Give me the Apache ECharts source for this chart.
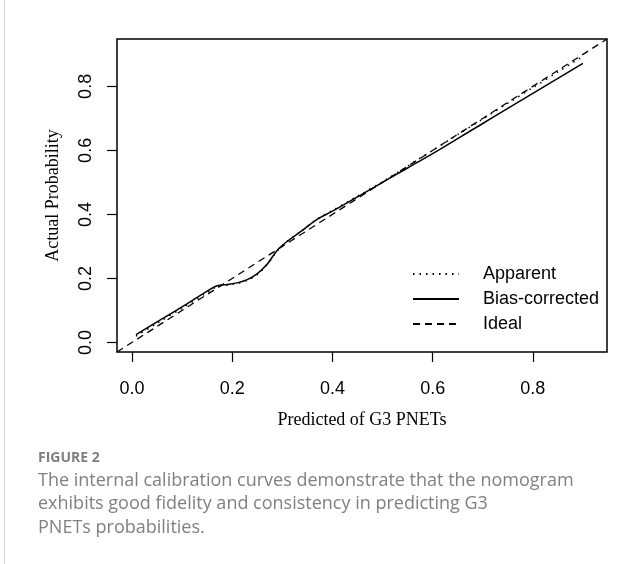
<!DOCTYPE html>
<html>
<head>
<meta charset="utf-8">
<script src="https://cdn.jsdelivr.net/npm/echarts@6/dist/echarts.min.js"></script>
<style>
  html, body { margin: 0; padding: 0; background: #ffffff; }
  #calib { width: 641px; height: 564px; }
</style>
</head>
<body>
<div id="calib"></div>
<script>
// values
var predX = [0.008, 0.05, 0.10, 0.15, 0.17, 0.19, 0.21, 0.23, 0.25, 0.27, 0.29, 0.31, 0.34, 0.37, 0.40, 0.45, 0.50, 0.55, 0.60, 0.65, 0.70, 0.75, 0.80, 0.85, 0.90];
var biasY = [0.024, 0.064, 0.111, 0.160, 0.177, 0.181, 0.186, 0.196, 0.215, 0.245, 0.288, 0.316, 0.350, 0.385, 0.410, 0.455, 0.500, 0.545, 0.590, 0.637, 0.684, 0.731, 0.778, 0.825, 0.872];
var apparentY = [0.020, 0.060, 0.107, 0.156, 0.174, 0.179, 0.184, 0.194, 0.212, 0.243, 0.286, 0.316, 0.350, 0.386, 0.412, 0.457, 0.502, 0.551, 0.600, 0.649, 0.698, 0.747, 0.796, 0.845, 0.894];
var idealX = [-0.03, 0.948];
var tickValues = [0, 0.2, 0.4, 0.6, 0.8];
var legendNames = ["Apparent", "Bias-corrected", "Ideal"];

function pairs(xs, ys) {
  return xs.map(function (x, i) { return [x, ys[i]]; });
}

var chart = echarts.init(document.getElementById("calib"));

var axisCommon = {
  type: "value",
  min: -0.03,
  max: 0.948,
  axisLine: { show: false, onZero: false },
  splitLine: { show: false },
  axisTick: {
    show: true,
    inside: false,
    length: 10,
    customValues: tickValues,
    lineStyle: { color: "#000", width: 1.2 }
  },
  axisLabel: {
    customValues: tickValues,
    fontFamily: "Liberation Sans",
    fontSize: 18,
    color: "#000",
    formatter: function (v) { return v.toFixed(1); }
  },
  nameLocation: "middle",
  nameTextStyle: {
    fontFamily: "Liberation Serif",
    fontSize: 18,
    color: "#000"
  }
};

chart.setOption({
  animation: false,
  grid: {
    left: 117,
    right: 34,
    top: 39,
    bottom: 212,
    show: true,
    borderColor: "#000",
    borderWidth: 1.5,
    backgroundColor: "transparent"
  },
  title: {
    text: "FIGURE 2",
    subtext: "The internal calibration curves demonstrate that the nomogram\nexhibits good fidelity and consistency in predicting G3\nPNETs probabilities.",
    left: 33,
    top: 446,
    itemGap: 4,
    textStyle: {
      fontFamily: "Open Sans",
      fontSize: 14,
      fontWeight: "bold",
      color: "#7f7f7f"
    },
    subtextStyle: {
      fontFamily: "Open Sans",
      fontSize: 18,
      lineHeight: 23.5,
      color: "#808080"
    }
  },
  graphic: [
    {
      type: "line",
      shape: { x1: 4.5, y1: 0, x2: 4.5, y2: 564 },
      style: { stroke: "#d4d4d4", lineWidth: 1 }
    }
  ],
  legend: {
    data: legendNames,
    orient: "vertical",
    left: 407,
    top: 260,
    itemWidth: 46,
    itemHeight: 18,
    itemGap: 7,
    itemStyle: { opacity: 0 },
    textStyle: {
      fontFamily: "Liberation Sans",
      fontSize: 18,
      color: "#000",
      padding: [0, 0, 0, 19]
    }
  },
  xAxis: Object.assign({}, axisCommon, {
    name: "Predicted of G3 PNETs",
    nameGap: 59,
    axisLabel: Object.assign({}, axisCommon.axisLabel, { margin: 28 })
  }),
  yAxis: Object.assign({}, axisCommon, {
    name: "Actual Probability",
    nameGap: 55,
    axisLabel: Object.assign({}, axisCommon.axisLabel, { margin: 22, rotate: 90 })
  }),
  series: [
    {
      name: legendNames[0],
      type: "line",
      symbol: "none",
      smooth: 0.3,
      data: pairs(predX, apparentY),
      lineStyle: { color: "#000", width: 1.5, type: [1.5, 5] },
      itemStyle: { color: "#000" }
    },
    {
      name: legendNames[1],
      type: "line",
      symbol: "none",
      smooth: 0.3,
      data: pairs(predX, biasY),
      lineStyle: { color: "#000", width: 1.5, type: "solid" },
      itemStyle: { color: "#000" }
    },
    {
      name: legendNames[2],
      type: "line",
      symbol: "none",
      data: pairs(idealX, idealX),
      lineStyle: { color: "#000", width: 1.3, type: [7, 5] },
      itemStyle: { color: "#000" }
    }
  ]
});
</script>
</body>
</html>
